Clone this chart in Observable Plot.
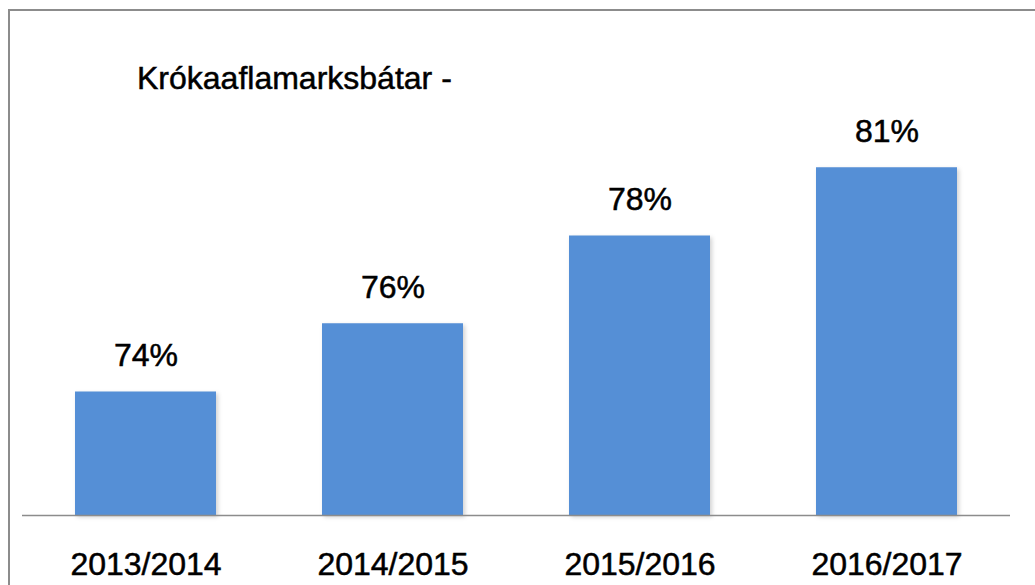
<!DOCTYPE html>
<html>
<head>
<meta charset="utf-8">
<script src="https://cdn.jsdelivr.net/npm/d3@7"></script>
<script src="https://cdn.jsdelivr.net/npm/@observablehq/plot@0.6"></script>
<style>
  html, body { margin: 0; padding: 0; background: #fff; }
  body { width: 1035px; height: 585px; position: relative; overflow: hidden; font-family: "Liberation Sans", Arial, Helvetica, sans-serif; }
  #frame { position: absolute; left: 8px; top: 9px; width: 1100px; height: 700px; border-left: 2px solid #8c8c8c; border-top: 2px solid #8c8c8c; box-sizing: border-box; }
  #title { position: absolute; left: 137px; top: 60px; font-size: 32px; line-height: 36px; color: #000; white-space: nowrap; -webkit-text-stroke: 0.5px #000; }
  #chart { position: absolute; left: 0; top: 0; }
  #chart svg text { stroke: #000; stroke-width: 0.5px; }
  #chart svg g[aria-label="bar"] rect { filter: drop-shadow(2px 2px 2px rgba(0,0,0,0.18)); }
</style>
</head>
<body>
<div id="frame"></div>
<div id="chart"></div>
<div id="title">Krókaaflamarksbátar -</div>
<script>
const titleText = "Krókaaflamarksbátar -";
const seasons = ["2013/2014", "2014/2015", "2015/2016", "2016/2017"];
const shares = [73.6, 75.7, 78.4, 80.5];
const axisMin = 69.8;
const axisMax = 84;

const data = seasons.map((s, i) => ({season: s, share: shares[i], label: Math.round(shares[i]) + "%"}));

const chart = Plot.plot({
  width: 1035,
  height: 585,
  marginLeft: 22,
  marginRight: 25,
  marginBottom: 70,
  marginTop: 53.5,
  style: {fontFamily: '"Liberation Sans", Arial, Helvetica, sans-serif', background: "transparent", color: "#000"},
  x: {domain: seasons, paddingInner: 0.43, paddingOuter: 0.215, label: null},
  y: {domain: [axisMin, axisMax], axis: null},
  marks: [
    Plot.barY(data, {x: "season", y1: axisMin, y2: "share", fill: "#558fd6"}),
    Plot.ruleY([axisMin], {stroke: "#8c8c8c", strokeWidth: 1.5}),
    Plot.text(data, {x: "season", y: "share", text: "label", dy: -26, lineAnchor: "bottom", fontSize: 32, fill: "#000"}),
    Plot.axisX({tickSize: 0, tickPadding: 37, fontSize: 32, label: null, fill: "#000"})
  ]
});
document.getElementById("chart").appendChild(chart);
</script>
</body>
</html>
